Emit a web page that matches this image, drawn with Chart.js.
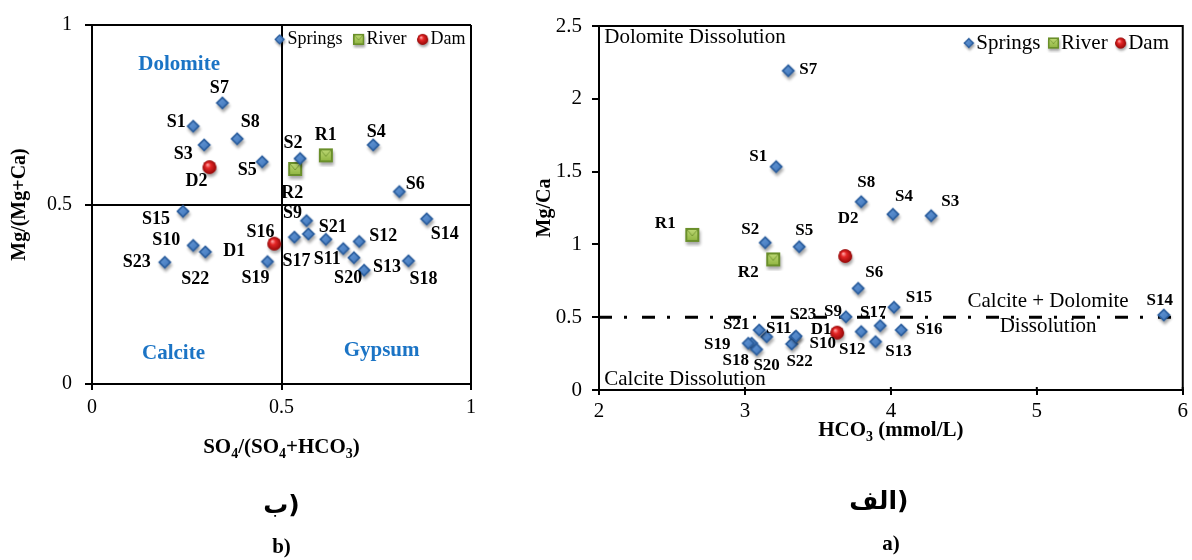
<!DOCTYPE html>
<html>
<head>
<meta charset="utf-8">
<script src="https://cdn.jsdelivr.net/npm/chart.js@4.4.1/dist/chart.umd.min.js"></script>
<style>
  html, body { margin: 0; padding: 0; background: #fff; }
  #wrap { position: relative; width: 1192px; height: 560px; }
  canvas { position: absolute; top: 0; }
  #ratioChart { left: 0; }
  #hco3Chart { left: 490px; }
</style>
</head>
<body>
<div id="wrap">
  <canvas id="ratioChart" width="490" height="560"></canvas>
  <canvas id="hco3Chart" width="702" height="560"></canvas>
</div>
<script>
const SERIF = "'Liberation Serif', 'Times New Roman', serif";

// b) Mg/(Mg+Ca) against SO4/(SO4+HCO3)
const springNames = ['S1','S2','S3','S4','S5','S6','S7','S8','S9','S10','S11','S12',
  'S13','S14','S15','S16','S17','S18','S19','S20','S21','S22','S23'];
const springRatioSO4 = [0.267, 0.549, 0.296, 0.742, 0.449, 0.811, 0.344, 0.383, 0.566, 0.267, 0.663, 0.705,
  0.691, 0.883, 0.240, 0.534, 0.571, 0.835, 0.463, 0.718, 0.617, 0.299, 0.192];
const springRatioMg = [0.718, 0.628, 0.666, 0.666, 0.619, 0.536, 0.783, 0.683, 0.455, 0.386, 0.377, 0.397,
  0.352, 0.460, 0.481, 0.409, 0.418, 0.343, 0.341, 0.317, 0.403, 0.368, 0.339];
const riverNames = ['R1', 'R2'];
const riverRatioSO4 = [0.617, 0.536];
const riverRatioMg = [0.637, 0.599];
const damNames = ['D1', 'D2'];
const damRatioSO4 = [0.481, 0.310];
const damRatioMg = [0.391, 0.604];
const ratioTicks = [0, 0.5, 1];

// a) Mg/Ca against HCO3
const springHCO3 = [3.214, 3.139, 4.276, 4.014, 3.372, 3.776, 3.297, 3.797, 3.692, 3.342, 3.149, 3.797,
  3.895, 5.870, 4.021, 4.071, 3.927, 3.046, 3.023, 3.080, 3.098, 3.320, 3.350];
const springMgCa = [1.534, 1.012, 1.197, 1.207, 0.984, 0.698, 2.193, 1.293, 0.503, 0.362, 0.366, 0.401,
  0.332, 0.515, 0.568, 0.412, 0.442, 0.321, 0.321, 0.279, 0.412, 0.316, 0.370];
const riverHCO3 = [2.639, 3.194];
const riverMgCa = [1.065, 0.897];
const damHCO3 = [3.632, 3.687];
const damMgCa = [0.394, 0.920];
const thresholdHCO3 = [2, 6];
const thresholdMgCa = [0.5, 0.5];
const hco3Ticks = [2, 3, 4, 5, 6];
const mgCaTicks = [0, 0.5, 1, 1.5, 2, 2.5];

// where each sample name sits relative to its marker (px)
const ratioLabelOffsets = {
  S1: [-17, -4], S2: [-7, -15], S3: [-21, 9], S4: [3, -13], S5: [-15, 9], S6: [16, -7],
  S7: [-3, -15], S8: [13, -16], S9: [-14, -7], S10: [-27, -5], S11: [-16, 11], S12: [24, -5],
  S13: [33, 10], S14: [18, 15], S15: [-27, 8], S16: [-34, -5], S17: [-12, 27], S18: [15, 18],
  S19: [-12, 17], S20: [-16, 8], S21: [7, -12], S22: [-10, 27], S23: [-28, 0],
  R1: [0, -20], R2: [-3, 24], D1: [-40, 8], D2: [-13, 14]
};
const hco3LabelOffsets = {
  S1: [-18, -10], S2: [-15, -13], S3: [19, -14], S4: [11, -18], S5: [5, -16], S6: [16, -16],
  S7: [20, -1], S8: [5, -19], S9: [-13, -5], S10: [28, 6], S11: [12, -8], S12: [-9, 18],
  S13: [23, 10], S14: [-4, -14], S15: [25, -10], S16: [28, 0], S17: [-7, -13], S18: [-16, 17],
  S19: [-31, 1], S20: [10, 16], S21: [-23, -5], S22: [8, 18], S23: [7, -22],
  R1: [-27, -11], R2: [-25, 13], D1: [-16, -3], D2: [3, -37]
};

function toPoints(xs, ys) {
  return xs.map((x, i) => ({ x: x, y: ys[i] }));
}

function markerCanvas(size, draw) {
  const c = document.createElement('canvas');
  c.width = size;
  c.height = size;
  draw(c.getContext('2d'), size / 2);
  return c;
}

function withShadow(g, fn) {
  g.save();
  g.shadowColor = 'rgba(0,0,0,0.35)';
  g.shadowBlur = 3;
  g.shadowOffsetX = 1;
  g.shadowOffsetY = 3;
  fn();
  g.restore();
}

const diamondImg = markerCanvas(24, (g, m) => {
  const r = 6.8;
  const path = (rr) => {
    g.beginPath();
    g.moveTo(m, m - rr); g.lineTo(m + rr, m); g.lineTo(m, m + rr); g.lineTo(m - rr, m);
    g.closePath();
  };
  withShadow(g, () => { path(r); g.fillStyle = '#2c5f9f'; g.fill(); });
  const grad = g.createLinearGradient(m - r, m - r, m + r, m + r);
  grad.addColorStop(0, '#6c9fdc');
  grad.addColorStop(1, '#3a70b6');
  path(r * 0.62);
  g.fillStyle = grad;
  g.fill();
});

const squareImg = markerCanvas(24, (g, m) => {
  const h = 7;
  withShadow(g, () => { g.fillStyle = '#6a8f2a'; g.fillRect(m - h, m - h, h * 2, h * 2); });
  const grad = g.createLinearGradient(0, m - h, 0, m + h);
  grad.addColorStop(0, '#c2dc7a');
  grad.addColorStop(1, '#8cb23c');
  g.fillStyle = grad;
  g.fillRect(m - h + 2, m - h + 2, h * 2 - 4, h * 2 - 4);
  g.beginPath();
  g.moveTo(m - h + 2, m - h + 2); g.lineTo(m, m + 1); g.lineTo(m + h - 2, m - h + 2);
  g.strokeStyle = 'rgba(90,125,30,0.6)';
  g.lineWidth = 1;
  g.stroke();
});

const circleImg = markerCanvas(24, (g, m) => {
  const r = 6.8;
  withShadow(g, () => {
    g.beginPath(); g.arc(m, m, r, 0, Math.PI * 2); g.fillStyle = '#a00d0d'; g.fill();
  });
  const grad = g.createRadialGradient(m - 2, m - 2.5, 0.5, m, m, r);
  grad.addColorStop(0, '#ff9c9c');
  grad.addColorStop(0.35, '#e52626');
  grad.addColorStop(1, '#960808');
  g.beginPath(); g.arc(m, m, r, 0, Math.PI * 2);
  g.fillStyle = grad;
  g.fill();
});

// text with subscripts: parts = [[text, isSub], ...]
function drawRich(ctx, parts, cx, cy, size, angle) {
  ctx.save();
  ctx.translate(cx, cy);
  ctx.rotate(angle || 0);
  ctx.fillStyle = '#000';
  ctx.textBaseline = 'middle';
  ctx.textAlign = 'left';
  const fontFor = (sub) => `bold ${sub ? Math.round(size * 0.65) : size}px ${SERIF}`;
  let total = 0;
  parts.forEach(([t, sub]) => { ctx.font = fontFor(sub); total += ctx.measureText(t).width; });
  let x = -total / 2;
  parts.forEach(([t, sub]) => {
    ctx.font = fontFor(sub);
    ctx.fillText(t, x, sub ? size * 0.3 : 0);
    x += ctx.measureText(t).width;
  });
  ctx.restore();
}

const pointNamesPlugin = {
  id: 'pointNames',
  afterDatasetsDraw: (chart, args, opts) => {
    const { ctx } = chart;
    ctx.save();
    ctx.font = `bold ${opts.size}px ${SERIF}`;
    ctx.fillStyle = '#000';
    ctx.textAlign = 'center';
    ctx.textBaseline = 'middle';
    chart.data.datasets.forEach((ds, i) => {
      if (!ds.names) return;
      chart.getDatasetMeta(i).data.forEach((pt, j) => {
        const off = opts.offsets[ds.names[j]] || [0, -15];
        ctx.fillText(ds.names[j], pt.x + off[0], pt.y + off[1]);
      });
    });
    ctx.restore();
  }
};

const notesPlugin = {
  id: 'notes',
  afterDraw: (chart, args, opts) => {
    const { ctx, scales: { x, y } } = chart;
    ctx.save();
    ctx.textBaseline = 'middle';
    opts.items.forEach((n) => {
      ctx.font = opts.font;
      ctx.fillStyle = opts.color;
      ctx.textAlign = n.align || 'center';
      ctx.fillText(n.text, x.getPixelForValue(n.x), y.getPixelForValue(n.y));
    });
    ctx.restore();
  }
};

const keyPlugin = {
  id: 'key',
  afterDraw: (chart, args, opts) => {
    const { ctx, scales: { x, y } } = chart;
    let px = x.getPixelForValue(opts.x);
    const py = y.getPixelForValue(opts.y);
    ctx.save();
    ctx.font = `${opts.size}px ${SERIF}`;
    ctx.fillStyle = '#000';
    ctx.textAlign = 'left';
    ctx.textBaseline = 'middle';
    chart.data.datasets.forEach((ds) => {
      if (!ds.names) return;
      const img = ds.pointStyle;
      const w = img.width * 0.8;
      ctx.drawImage(img, px - w / 2, py - w / 2, w, w);
      px += opts.markerGap;
      ctx.fillText(ds.label, px, py);
      px += ctx.measureText(ds.label).width + opts.textGap;
    });
    ctx.restore();
  }
};

function fixTicks(values) {
  return (scale) => { scale.ticks = values.map(v => ({ value: v })); };
}

const plainNumber = (v) => String(v);

// ---------- b) ----------
new Chart(document.getElementById('ratioChart'), {
  type: 'scatter',
  data: {
    datasets: [
      { label: 'Springs', data: toPoints(springRatioSO4, springRatioMg), names: springNames, pointStyle: diamondImg, pointRadius: 7 },
      { label: 'River', data: toPoints(riverRatioSO4, riverRatioMg), names: riverNames, pointStyle: squareImg, pointRadius: 7 },
      { label: 'Dam', data: toPoints(damRatioSO4, damRatioMg), names: damNames, pointStyle: circleImg, pointRadius: 7 }
    ]
  },
  options: {
    responsive: false,
    animation: false,
    devicePixelRatio: 1,
    layout: { padding: { top: 20, right: 19, left: 0, bottom: 0 } },
    scales: {
      x: {
        type: 'linear', min: 0, max: 1,
        afterBuildTicks: fixTicks(ratioTicks),
        afterFit: (s) => { s.height = 176; },
        grid: { color: '#000', lineWidth: 2, tickLength: 6 },
        border: { color: '#000', width: 2 },
        ticks: { color: '#000', font: { family: SERIF, size: 20 }, padding: 6, maxRotation: 0, callback: plainNumber }
      },
      y: {
        type: 'linear', min: 0, max: 1,
        afterBuildTicks: fixTicks(ratioTicks),
        afterFit: (s) => { s.width = 92; },
        grid: { color: '#000', lineWidth: 2, tickLength: 7 },
        border: { color: '#000', width: 2 },
        ticks: { color: '#000', font: { family: SERIF, size: 20 }, padding: 13, callback: plainNumber }
      }
    },
    plugins: {
      legend: { display: false },
      tooltip: { enabled: false },
      pointNames: { size: 18, offsets: ratioLabelOffsets },
      notes: {
        font: `bold 21px ${SERIF}`,
        color: '#1b74c5',
        items: [
          { text: 'Dolomite', x: 0.23, y: 0.89 },
          { text: 'Calcite', x: 0.215, y: 0.085 },
          { text: 'Gypsum', x: 0.764, y: 0.093 }
        ]
      },
      key: { x: 0.495, y: 0.96, size: 18, markerGap: 8, textGap: 16 }
    }
  },
  plugins: [pointNamesPlugin, notesPlugin, keyPlugin, {
    id: 'ratioTitles',
    afterDraw: (chart) => {
      const { ctx, chartArea: a } = chart;
      const cx = (a.left + a.right) / 2;
      drawRich(ctx, [['SO', 0], ['4', 1], ['/(SO', 0], ['4', 1], ['+HCO', 0], ['3', 1], [')', 0]], cx, a.bottom + 64, 21);
      drawRich(ctx, [['Mg/(Mg+Ca)', 0]], 20, (a.top + a.bottom) / 2, 20, -Math.PI / 2);
      ctx.save();
      ctx.fillStyle = '#000';
      ctx.textAlign = 'center';
      ctx.textBaseline = 'middle';
      ctx.font = "bold 25px 'DejaVu Sans'";
      ctx.fillText('ب)', cx, a.bottom + 122);
      ctx.font = `bold 21px ${SERIF}`;
      ctx.fillText('b)', cx, a.bottom + 164);
      ctx.restore();
    }
  }]
});

// ---------- a) ----------
new Chart(document.getElementById('hco3Chart'), {
  type: 'scatter',
  data: {
    datasets: [
      { label: 'Springs', data: toPoints(springHCO3, springMgCa), names: springNames, pointStyle: diamondImg, pointRadius: 7, order: 1 },
      { label: 'River', data: toPoints(riverHCO3, riverMgCa), names: riverNames, pointStyle: squareImg, pointRadius: 7, order: 1 },
      { label: 'Dam', data: toPoints(damHCO3, damMgCa), names: damNames, pointStyle: circleImg, pointRadius: 7, order: 1 },
      {
        type: 'line', label: 'limit', data: toPoints(thresholdHCO3, thresholdMgCa),
        borderColor: '#000', borderWidth: 3, borderDash: [13, 12, 3, 15],
        pointRadius: 0, fill: false, order: 5
      }
    ]
  },
  options: {
    responsive: false,
    animation: false,
    devicePixelRatio: 1,
    layout: { padding: { top: 26, right: 9, left: 0, bottom: 0 } },
    scales: {
      x: {
        type: 'linear', min: 2, max: 6,
        afterBuildTicks: fixTicks(hco3Ticks),
        afterFit: (s) => { s.height = 170; },
        grid: { drawOnChartArea: false, color: '#000', lineWidth: 2, tickLength: 5 },
        border: { color: '#000', width: 2 },
        ticks: { color: '#000', font: { family: SERIF, size: 21 }, padding: 4, maxRotation: 0, callback: plainNumber }
      },
      y: {
        type: 'linear', min: 0, max: 2.5,
        afterBuildTicks: fixTicks(mgCaTicks),
        afterFit: (s) => { s.width = 109; },
        grid: { drawOnChartArea: false, color: '#000', lineWidth: 2, tickLength: 7 },
        border: { color: '#000', width: 2 },
        ticks: { color: '#000', font: { family: SERIF, size: 21 }, padding: 10, callback: plainNumber }
      }
    },
    plugins: {
      legend: { display: false },
      tooltip: { enabled: false },
      pointNames: { size: 17, offsets: hco3LabelOffsets },
      notes: {
        font: `21px ${SERIF}`,
        color: '#000',
        items: [
          { text: 'Dolomite Dissolution', x: 2.036, y: 2.424, align: 'left' },
          { text: 'Calcite Dissolution', x: 2.036, y: 0.075, align: 'left' },
          { text: 'Calcite + Dolomite', x: 5.077, y: 0.606 },
          { text: 'Dissolution', x: 5.077, y: 0.435 }
        ]
      },
      key: { x: 4.534, y: 2.383, size: 21, markerGap: 7.5, textGap: 13 }
    }
  },
  plugins: [pointNamesPlugin, notesPlugin, keyPlugin, {
    id: 'hco3Frame',
    beforeDatasetsDraw: (chart) => {
      const { ctx, chartArea: a, scales: { x } } = chart;
      ctx.save();
      ctx.strokeStyle = '#000';
      ctx.lineWidth = 2;
      ctx.strokeRect(a.left, a.top, a.right - a.left, a.bottom - a.top);
      x.ticks.forEach((t) => {
        const px = x.getPixelForValue(t.value);
        ctx.beginPath();
        ctx.moveTo(px, a.bottom);
        ctx.lineTo(px, a.bottom - 3);
        ctx.stroke();
      });
      ctx.restore();
    },
    afterDraw: (chart) => {
      const { ctx, chartArea: a } = chart;
      const cx = (a.left + a.right) / 2;
      drawRich(ctx, [['HCO', 0], ['3', 1], [' (mmol/L)', 0]], cx, a.bottom + 41, 21);
      drawRich(ctx, [['Mg/Ca', 0]], 55, (a.top + a.bottom) / 2, 20, -Math.PI / 2);
      ctx.save();
      ctx.fillStyle = '#000';
      ctx.textAlign = 'center';
      ctx.textBaseline = 'middle';
      ctx.font = "bold 25px 'DejaVu Sans'";
      ctx.fillText('الف)', cx - 12, a.bottom + 112);
      ctx.font = `bold 21px ${SERIF}`;
      ctx.fillText('a)', cx, a.bottom + 155);
      ctx.restore();
    }
  }]
});
</script>
</body>
</html>
